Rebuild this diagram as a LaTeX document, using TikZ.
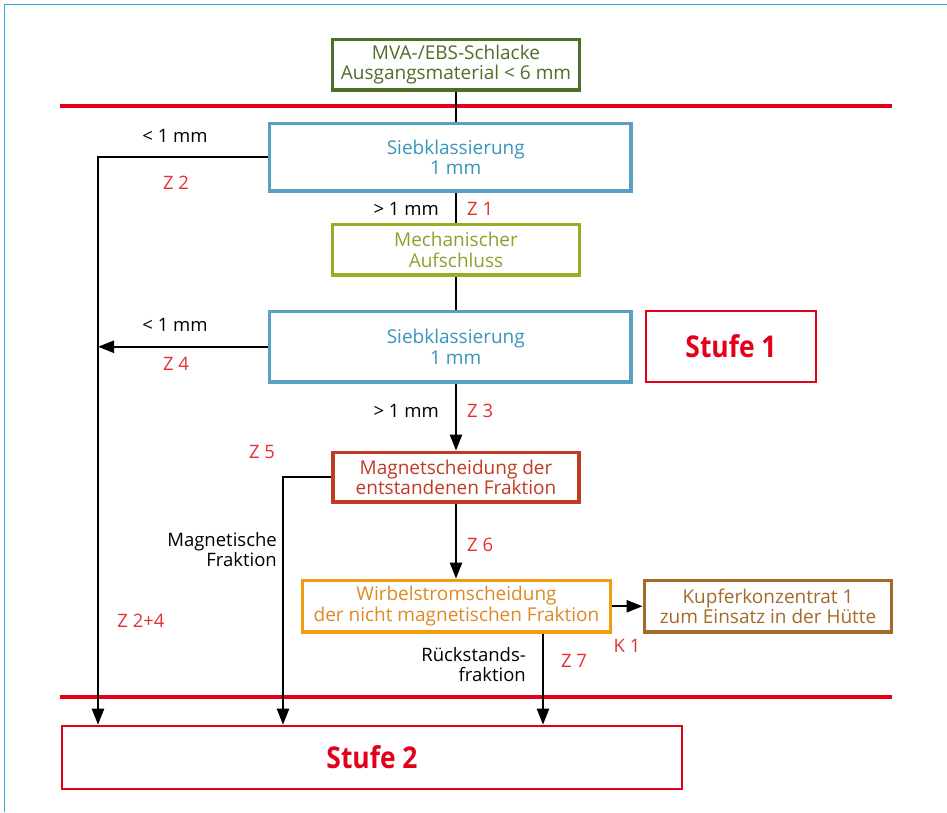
\documentclass[tikz,border=0pt]{standalone}
\usepackage{fontspec}
\usepackage{graphicx}
\setmainfont{Open Sans}
\usetikzlibrary{arrows.meta}
\definecolor{frameblue}{HTML}{2EA3DC}
\definecolor{dgreen}{HTML}{4F6E27}
\definecolor{sblue}{HTML}{5AA0C2}
\definecolor{sbluetxt}{HTML}{3A95BD}
\definecolor{lgreen}{HTML}{98AE28}
\definecolor{lgreentxt}{HTML}{8CA22E}
\definecolor{magred}{HTML}{C13B24}
\definecolor{orng}{HTML}{F29C12}
\definecolor{orngtxt}{HTML}{DE8A22}
\definecolor{kbrown}{HTML}{A36A2A}
\definecolor{sred}{HTML}{E2001A}
\definecolor{zred}{HTML}{E5302F}
\tikzset{
  box/.style={draw, line width=3.8pt, fill=white, align=center, inner sep=0pt,
    font=\fontsize{19}{20.5}\selectfont},
  stufebox/.style={draw=sred, line width=2.6pt, inner sep=0pt, text=sred,
    font=\fontsize{30}{30}\selectfont\bfseries},
  conn/.style={line width=2.4pt, black},
  arr/.style={conn, -{Triangle[length=16pt,width=12pt]}},
  lbl/.style={font=\fontsize{18.5}{20}\selectfont, inner sep=0pt, align=center},
  zlbl/.style={lbl, text=zred},
  sep/.style={draw=sred, line width=4.5pt}
}
\begin{document}
\begin{tikzpicture}[x=1pt,y=-1pt]
\useasboundingbox (0,0) rectangle (947,812);
% frame
\coordinate (f0) at (4.5,812);
\coordinate (f1) at (4.5,4.5);
\coordinate (f2) at (947,4.5);
\draw[frameblue, line width=1.5pt] (f0) -- (f1) -- (f2);
% separator lines
\coordinate (l1a) at (60,106);
\coordinate (l1b) at (892,106);
\coordinate (l2a) at (60,697);
\coordinate (l2b) at (892,697);
\draw[sep] (l1a) -- (l1b);
\draw[sep] (l2a) -- (l2b);
% boxes
\node[box, draw=dgreen, text=dgreen, minimum width=247pt, minimum height=50.5pt] (top) at (456,64.75)
  {MVA-/EBS-Schlacke\\Ausgangsmaterial < 6 mm};
\node[box, draw=sblue, text=sbluetxt, minimum width=361.5pt, minimum height=67.5pt] (sieb1) at (450.25,157.25)
  {\hspace*{11pt}Siebklassierung\\\hspace*{11pt}1 mm};
\node[box, draw=lgreen, text=lgreentxt, minimum width=247pt, minimum height=50.5pt] (mech) at (456,249.75)
  {Mechanischer\\Aufschluss};
\node[box, draw=sblue, text=sbluetxt, minimum width=361.5pt, minimum height=70.5pt] (sieb2) at (450.25,346.75)
  {\hspace*{11pt}Siebklassierung\\\hspace*{11pt}1 mm};
\node[stufebox, minimum width=170pt, minimum height=71pt] (st1) at (731,346.5)
  {\scalebox{0.88}[1]{Stufe 1}};
\node[box, draw=magred, text=magred, minimum width=246pt, minimum height=49.5pt] (mag) at (456,477.25)
  {Magnetscheidung der\\entstandenen Fraktion};
\node[box, draw=orng, text=orngtxt, minimum width=308pt, minimum height=51.5pt] (wir) at (456.5,606.25)
  {Wirbelstromscheidung\\der nicht magnetischen Fraktion};
\node[box, draw=kbrown, text=kbrown, minimum width=247pt, minimum height=51.5pt] (kup) at (768,606.25)
  {Kupferkonzentrat 1\\zum Einsatz in der Hütte};
\node[stufebox, minimum width=620pt, minimum height=63pt] (st2) at (372,757.5)
  {\scalebox{0.88}[1]{Stufe 2}};
% connector helper coordinates
\coordinate (xl) at (98,0);
\coordinate (xm) at (283,0);
\coordinate (xr) at (543,0);
\coordinate (xc) at (456,0);
% connectors
\draw[conn] (top.south) -- (top.south |- sieb1.north);
\draw[conn] (sieb1.south -| xc) -- (mech.north);
\draw[conn] (mech.south) -- (sieb2.north -| xc);
\draw[arr] (sieb2.south -| xc) -- (mag.north);
\draw[arr] (mag.south) -- (wir.north -| xc);
\draw[arr] (wir.east) -- (kup.west);
\draw[arr] (sieb1.west) -| (xl |- st2.north);
\draw[arr] (sieb2.west) -- (sieb2.west -| xl);
\draw[arr] (mag.west) -| (xm |- st2.north);
\draw[arr] (wir.south -| xr) -- (st2.north -| xr);
% labels
\node[lbl] (lt1) at (175,136) {< 1 mm};
\node[zlbl] (z2) at (176,183) {Z 2};
\node[lbl, anchor=east] (gt1) at (439,209) {> 1 mm};
\node[zlbl, anchor=west] (z1) at (467,209) {Z 1};
\node[lbl] (lt2) at (175,325) {< 1 mm};
\node[zlbl] (z4) at (176,364) {Z 4};
\node[lbl, anchor=east] (gt2) at (439,411) {> 1 mm};
\node[zlbl, anchor=west] (z3) at (467,411) {Z 3};
\node[zlbl] (z5) at (262,452) {Z 5};
\node[lbl, anchor=east, align=right] (magfr) at (277,550) {Magnetische\\Fraktion};
\node[zlbl, anchor=west] (z6) at (467,545) {Z 6};
\node[zlbl] (z24) at (141,621) {Z 2+4};
\node[zlbl] (k1) at (627,646) {K 1};
\node[lbl, anchor=east, align=right] (rueck) at (526,665) {Rückstands-\\fraktion};
\node[zlbl] (z7) at (574,661) {Z 7};
\end{tikzpicture}
\end{document}
